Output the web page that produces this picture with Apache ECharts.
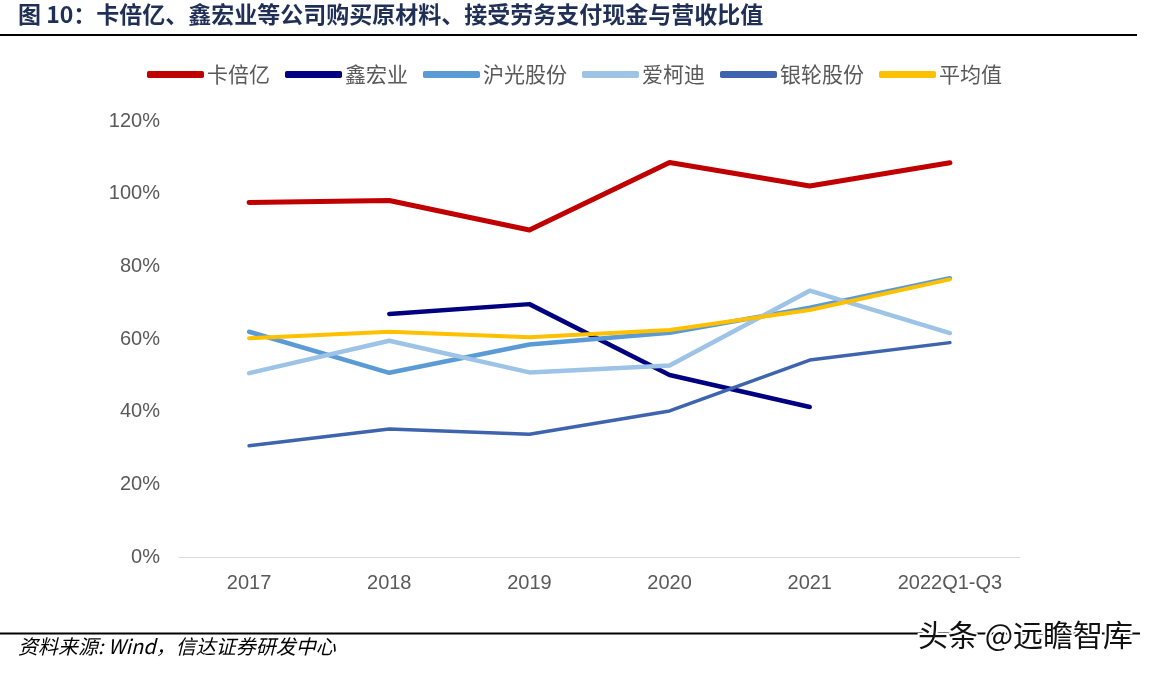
<!DOCTYPE html>
<html>
<head>
<meta charset="utf-8">
<script src="https://cdn.jsdelivr.net/npm/echarts@6/dist/echarts.min.js"></script>
<style>
html,body{margin:0;padding:0;background:#fff;}
#c{width:1149px;height:675px;}
</style>
</head>
<body>
<div id="c"></div>
<script>
const categories = ['2017', '2018', '2019', '2020', '2021', '2022Q1-Q3'];
const kabeiyi = [97.6, 98.1, 90.0, 108.6, 102.1, 108.5];
const xinhongye = [null, 66.9, 69.6, 50.1, 41.3, null];
const huguang = [62.0, 50.7, 58.5, 61.7, 68.6, 76.7];
const aikedi = [50.6, 59.5, 50.8, 52.7, 73.3, 61.6];
const yinlun = [30.6, 35.2, 33.8, 40.2, 54.2, 59.0];
const average = [60.2, 62.0, 60.5, 62.5, 68.0, 76.4];
const yTicks = [0, 20, 40, 60, 80, 100, 120];

const font = '"Liberation Sans", Arial, "Noto Sans CJK SC", sans-serif';
const cjk = '"Noto Sans CJK SC", sans-serif';
const chart = echarts.init(document.getElementById('c'), null, {renderer: 'canvas'});

function s(name, data, color, width) {
  return {
    name: name, type: 'line', data: data, symbol: 'none',
    lineStyle: {color: color, width: width, cap: 'round', join: 'round'},
    itemStyle: {color: color},
    connectNulls: false, animation: false
  };
}

chart.setOption({
  animation: false,
  backgroundColor: '#fff',
  textStyle: {fontFamily: font},
  legend: {
    top: 59, left: 'center',
    icon: 'roundRect', itemWidth: 57, itemHeight: 7, itemGap: 15,
    textStyle: {fontSize: 21, color: '#595959', fontFamily: cjk, padding: [0, 0, 0, -2]},
    data: ['卡倍亿', '鑫宏业', '沪光股份', '爱柯迪', '银轮股份', '平均值']
  },
  grid: {left: 179, right: 129, top: 121, bottom: 118, containLabel: false},
  xAxis: {
    type: 'category', data: categories, boundaryGap: true,
    axisLine: {lineStyle: {color: '#D9D9D9', width: 1}},
    axisTick: {show: false},
    axisLabel: {fontSize: 20, color: '#595959', margin: 16, fontFamily: font}
  },
  yAxis: {
    type: 'value', min: yTicks[0], max: yTicks[yTicks.length - 1], interval: 20,
    axisLine: {show: false}, axisTick: {show: false},
    splitLine: {show: false},
    axisLabel: {fontSize: 20, color: '#595959', margin: 19, formatter: v => v + '%', fontFamily: font}
  },
  series: [
    s('卡倍亿', kabeiyi, '#C00000', 5),
    s('鑫宏业', xinhongye, '#000080', 4.5),
    s('沪光股份', huguang, '#5B9BD5', 4.5),
    s('爱柯迪', aikedi, '#9DC3E6', 4.5),
    s('银轮股份', yinlun, '#3F64AE', 3.5),
    s('平均值', average, '#FFC000', 4)
  ],
  graphic: [
    {type: 'text', left: 18, top: 3, style: {text: '图 10：卡倍亿、鑫宏业等公司购买原材料、接受劳务支付现金与营收比值', fontSize: 23, fontWeight: 'bold', fill: '#1F2F56', fontFamily: cjk}},
    {type: 'line', shape: {x1: 0, y1: 35, x2: 1137, y2: 35}, style: {stroke: '#000', lineWidth: 2}},
    {type: 'line', shape: {x1: 0, y1: 633.5, x2: 1140, y2: 633.5}, style: {stroke: '#000', lineWidth: 2}},
    {type: 'text', left: 18, top: 636, style: {text: '资料来源: Wind，信达证券研发中心', fontSize: 20, fontStyle: 'italic', fill: '#000', fontFamily: cjk}},
    {type: 'text', left: 916, top: 618, style: {text: '头条 @远瞻智库', fontSize: 30, fill: '#111', stroke: '#fff', lineWidth: 4, fontFamily: cjk}}
  ]
});
</script>
</body>
</html>
